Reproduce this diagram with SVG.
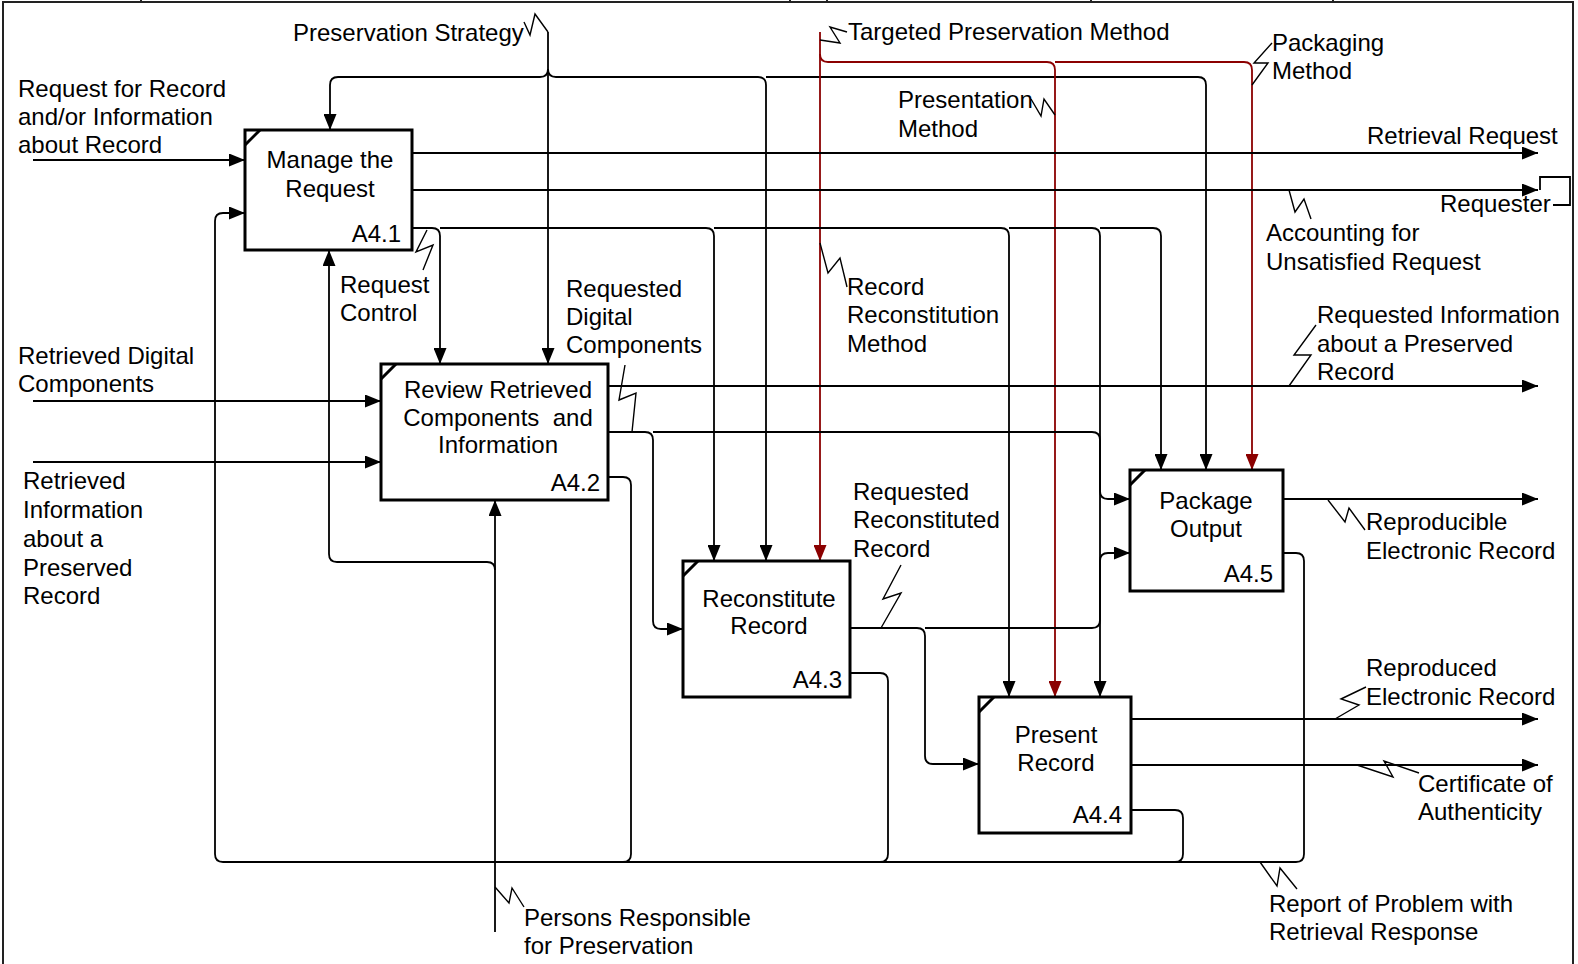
<svg xmlns="http://www.w3.org/2000/svg" width="1578" height="964" viewBox="0 0 1578 964">
  <style>
    text { font-family: "Liberation Sans", Arial, sans-serif; font-size: 24px; fill: #000; }
    .box { fill: #fff; stroke: #000; stroke-width: 3; }
    .notch { stroke: #000; stroke-width: 3; fill: none; }
    .mid { text-anchor: middle; }
    .num { text-anchor: end; }
    .frame { stroke: #222; stroke-width: 2; fill: none; }
    .wire { fill: none; stroke: #000; stroke-width: 1.8; }
    .red { fill: none; stroke: #8b0000; stroke-width: 1.8; }
    .sq { fill: none; stroke: #000; stroke-width: 1.4; }
  </style>
  <defs>
    <marker id="ah" markerUnits="userSpaceOnUse" markerWidth="16" markerHeight="13" refX="16" refY="6.5" orient="auto">
      <path d="M0,0 L16,6.5 L0,13 z" fill="#000"/>
    </marker>
    <marker id="ahr" markerUnits="userSpaceOnUse" markerWidth="16" markerHeight="13" refX="16" refY="6.5" orient="auto">
      <path d="M0,0 L16,6.5 L0,13 z" fill="#8b0000"/>
    </marker>
  </defs>

  <rect width="1578" height="964" fill="#fff"/>

  <!-- page frame -->
  <g id="frame">
    <path class="frame" d="M3,964 V2 H1573 V964"/>
    <path class="frame" d="M141,0 V3 M790,0 V3 M827,0 V3 M1091,0 V3 M1333,0 V3"/>
  </g>

  <!-- connectors -->
  <g id="connectors">
    <!-- inputs from the left -->
    <path class="wire" d="M33,160 H245" marker-end="url(#ah)"/>
    <path class="wire" d="M33,401 H381" marker-end="url(#ah)"/>
    <path class="wire" d="M33,462 H381" marker-end="url(#ah)"/>

    <!-- Preservation Strategy control -->
    <path class="wire" d="M548,32 V364" marker-end="url(#ah)"/>
    <path class="wire" d="M548,69 Q548,77 540,77 H338 Q330,77 330,85 V130" marker-end="url(#ah)"/>
    <path class="wire" d="M548,69 Q548,77 556,77 H758 Q766,77 766,85 V561" marker-end="url(#ah)"/>
    <path class="wire" d="M766,77 H1198 Q1206,77 1206,85 V470" marker-end="url(#ah)"/>

    <!-- Targeted Preservation Method control -->
    <path class="red" d="M820,32 V561" marker-end="url(#ahr)"/>
    <path class="red" d="M820,54 Q820,62 828,62 H1047 Q1055,62 1055,70 V697" marker-end="url(#ahr)"/>
    <path class="red" d="M1055,62 H1244 Q1252,62 1252,70 V470" marker-end="url(#ahr)"/>

    <!-- A4.1 outputs -->
    <path class="wire" d="M412,153 H1538" marker-end="url(#ah)"/>
    <path class="wire" d="M412,190 H1538" marker-end="url(#ah)"/>
    <path class="wire" d="M1540,190 V177 H1570 V205 H1553"/>
    <path class="wire" d="M412,228 H432 Q440,228 440,236 V364" marker-end="url(#ah)"/>
    <path class="wire" d="M440,228 H706 Q714,228 714,236 V561" marker-end="url(#ah)"/>
    <path class="wire" d="M714,228 H1001 Q1009,228 1009,236 V697" marker-end="url(#ah)"/>
    <path class="wire" d="M1009,228 H1092 Q1100,228 1100,236 V697" marker-end="url(#ah)"/>
    <path class="wire" d="M1100,228 H1153 Q1161,228 1161,236 V470" marker-end="url(#ah)"/>

    <!-- A4.2 outputs -->
    <path class="wire" d="M608,386 H1538" marker-end="url(#ah)"/>
    <path class="wire" d="M608,432 H645 Q653,432 653,440 V621 Q653,629 661,629 H683" marker-end="url(#ah)"/>
    <path class="wire" d="M653,432 H1092 Q1100,432 1100,440 V491 Q1100,499 1108,499 H1130" marker-end="url(#ah)"/>

    <!-- A4.3 outputs -->
    <path class="wire" d="M850,628 H917 Q925,628 925,636 V756 Q925,764 933,764 H979" marker-end="url(#ah)"/>
    <path class="wire" d="M925,628 H1092 Q1100,628 1100,620 V561 Q1100,553 1108,553 H1130" marker-end="url(#ah)"/>

    <!-- A4.4 / A4.5 outputs -->
    <path class="wire" d="M1283,499 H1538" marker-end="url(#ah)"/>
    <path class="wire" d="M1131,719 H1538" marker-end="url(#ah)"/>
    <path class="wire" d="M1131,765 H1538" marker-end="url(#ah)"/>

    <!-- problem reports fed back to A4.1 -->
    <path class="wire" d="M1283,553 H1296 Q1304,553 1304,561 V854 Q1304,862 1296,862 H223 Q215,862 215,854 V221 Q215,213 223,213 H245" marker-end="url(#ah)"/>
    <path class="wire" d="M1131,810 H1175 Q1183,810 1183,818 V854 Q1183,862 1175,862"/>
    <path class="wire" d="M850,673 H880 Q888,673 888,681 V854 Q888,862 880,862"/>
    <path class="wire" d="M608,477 H623 Q631,477 631,485 V854 Q631,862 623,862"/>

    <!-- mechanism: Persons Responsible for Preservation -->
    <path class="wire" d="M495,932 V500" marker-end="url(#ah)"/>
    <path class="wire" d="M495,570 Q495,562 487,562 H337 Q329,562 329,554 V250" marker-end="url(#ah)"/>

    <!-- label squiggles -->
    <path class="sq" d="M524,22 L530,35 L535,14 L548,32"/>
    <path class="sq" d="M820,40 L840,43 L830,27 L847,32"/>
    <path class="sq" d="M1031,99 L1041,116 L1044,99 L1055,115"/>
    <path class="sq" d="M1272,43 L1254,63 L1268,63 L1252,85"/>
    <path class="sq" d="M820,243 L828,273 L840,258 L847,287"/>
    <path class="sq" d="M427,230 L416,252 L433,245 L423,270"/>
    <path class="sq" d="M632,432 L636,393 L619,400 L625,365"/>
    <path class="sq" d="M1289,386 L1311,355 L1294,355 L1316,325"/>
    <path class="sq" d="M1289,190 L1295,212 L1304,199 L1311,219"/>
    <path class="sq" d="M1328,500 L1345,522 L1349,508 L1365,530"/>
    <path class="sq" d="M881,628 L901,593 L883,599 L901,565"/>
    <path class="sq" d="M1335,719 L1359,705 L1341,699 L1366,687"/>
    <path class="sq" d="M1357,765 L1393,777 L1384,761 L1419,773"/>
    <path class="sq" d="M1260,862 L1277,886 L1280,868 L1297,889"/>
    <path class="sq" d="M495,887 L509,903 L512,888 L524,907"/>
  </g>

  <!-- connector labels -->
  <g id="labels">
    <text x="293" y="41">Preservation Strategy</text>
    <text x="848" y="40">Targeted Preservation Method</text>
    <text x="1272" y="51">Packaging</text>
    <text x="1272" y="79">Method</text>
    <text x="18" y="97">Request for Record</text>
    <text x="18" y="125">and/or Information</text>
    <text x="18" y="153">about Record</text>
    <text x="898" y="108">Presentation</text>
    <text x="898" y="137">Method</text>
    <text x="1367" y="144">Retrieval Request</text>
    <text x="1440" y="212">Requester</text>
    <text x="1266" y="241">Accounting for</text>
    <text x="1266" y="270">Unsatisfied Request</text>
    <text x="340" y="293">Request</text>
    <text x="340" y="321">Control</text>
    <text x="566" y="297">Requested</text>
    <text x="566" y="325">Digital</text>
    <text x="566" y="353">Components</text>
    <text x="847" y="295">Record</text>
    <text x="847" y="323">Reconstitution</text>
    <text x="847" y="352">Method</text>
    <text x="1317" y="323">Requested Information</text>
    <text x="1317" y="352">about a Preserved</text>
    <text x="1317" y="380">Record</text>
    <text x="18" y="364">Retrieved Digital</text>
    <text x="18" y="392">Components</text>
    <text x="23" y="489">Retrieved</text>
    <text x="23" y="518">Information</text>
    <text x="23" y="547">about a</text>
    <text x="23" y="576">Preserved</text>
    <text x="23" y="604">Record</text>
    <text x="853" y="500">Requested</text>
    <text x="853" y="528">Reconstituted</text>
    <text x="853" y="557">Record</text>
    <text x="1366" y="530">Reproducible</text>
    <text x="1366" y="559">Electronic Record</text>
    <text x="1366" y="676">Reproduced</text>
    <text x="1366" y="705">Electronic Record</text>
    <text x="1418" y="792">Certificate of</text>
    <text x="1418" y="820">Authenticity</text>
    <text x="1269" y="912">Report of Problem with</text>
    <text x="1269" y="940">Retrieval Response</text>
    <text x="524" y="926">Persons Responsible</text>
    <text x="524" y="954">for Preservation</text>
  </g>

  <!-- activity boxes -->
  <g id="A4.1">
    <rect class="box" x="245" y="130" width="167" height="120"/>
    <path class="notch" d="M245,145 L260,130"/>
    <text class="mid" x="330" y="168">Manage the</text>
    <text class="mid" x="330" y="197">Request</text>
    <text class="num" x="401" y="242">A4.1</text>
  </g>
  <g id="A4.2">
    <rect class="box" x="381" y="364" width="227" height="136"/>
    <path class="notch" d="M381,379 L396,364"/>
    <text class="mid" x="498" y="398" xml:space="preserve">Review Retrieved</text>
    <text class="mid" x="498" y="426" xml:space="preserve">Components  and</text>
    <text class="mid" x="498" y="453">Information</text>
    <text class="num" x="600" y="491">A4.2</text>
  </g>
  <g id="A4.3">
    <rect class="box" x="683" y="561" width="167" height="136"/>
    <path class="notch" d="M683,576 L698,561"/>
    <text class="mid" x="769" y="607">Reconstitute</text>
    <text class="mid" x="769" y="634">Record</text>
    <text class="num" x="842" y="688">A4.3</text>
  </g>
  <g id="A4.4">
    <rect class="box" x="979" y="697" width="152" height="136"/>
    <path class="notch" d="M979,712 L994,697"/>
    <text class="mid" x="1056" y="743">Present</text>
    <text class="mid" x="1056" y="771">Record</text>
    <text class="num" x="1122" y="823">A4.4</text>
  </g>
  <g id="A4.5">
    <rect class="box" x="1130" y="470" width="153" height="121"/>
    <path class="notch" d="M1130,485 L1145,470"/>
    <text class="mid" x="1206" y="509">Package</text>
    <text class="mid" x="1206" y="537">Output</text>
    <text class="num" x="1273" y="582">A4.5</text>
  </g>
</svg>
